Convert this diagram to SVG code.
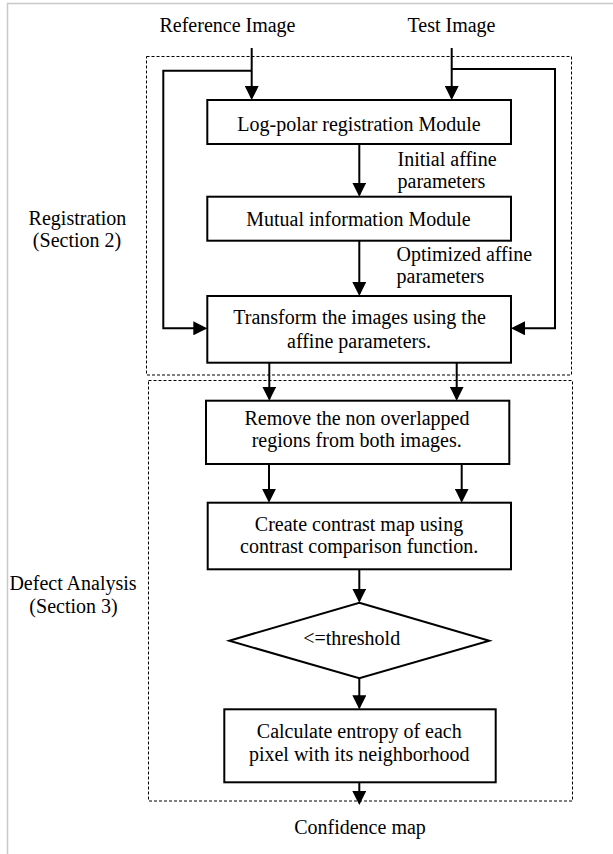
<svg xmlns="http://www.w3.org/2000/svg" width="613" height="854" viewBox="0 0 613 854">
<defs>
<style>
text{font-family:"Liberation Serif","Times New Roman",serif;font-size:20px;fill:#000}
.c{text-anchor:middle}
.box{fill:#fff;stroke:#000;stroke-width:2}
.grp{fill:none;stroke:#000;stroke-width:1;stroke-dasharray:3,2}
.con{fill:none;stroke:#000;stroke-width:2}
.arr{marker-end:url(#ah)}
</style>
<marker id="ah" viewBox="0 0 14 14" refX="12" refY="7" markerWidth="14" markerHeight="14" markerUnits="userSpaceOnUse" orient="auto">
<path d="M0,0 L14,7 L0,14 z" fill="#000"/>
</marker>
</defs>
<rect width="613" height="854" fill="#fff"/>
<path d="M7.5,854 V3.5 H613" fill="none" stroke="#c8c8c8" stroke-width="1.5"/>

<g id="groups">
<rect class="grp" x="146.5" y="56.5" width="425" height="318.5"/>
<rect class="grp" x="148.5" y="380.5" width="424" height="420.5"/>
</g>

<g id="labels">
<text class="c" x="77.5" y="224.5">Registration</text>
<text class="c" x="77" y="246.5">(Section 2)</text>
<text class="c" x="73" y="590">Defect Analysis</text>
<text class="c" x="73.5" y="613">(Section 3)</text>
<text class="c" x="227.5" y="31.5">Reference Image</text>
<text class="c" x="451.5" y="31.5">Test Image</text>
<text x="397.5" y="165.5">Initial affine</text>
<text x="397.5" y="187.5">parameters</text>
<text x="396.5" y="260.5">Optimized affine</text>
<text x="396.5" y="283">parameters</text>
<text class="c" x="360" y="833.5">Confidence map</text>
</g>

<g id="connectors">
<path class="con arr" d="M251.7,48 V98"/>
<path class="con arr" d="M451.7,48 V98"/>
<path class="con arr" d="M251.7,70.7 H163.3 V328.3 H205.3"/>
<path class="con arr" d="M451.7,69 H555 V328.3 H513"/>
<path class="con arr" d="M359.3,144 V194.7"/>
<path class="con arr" d="M359.3,240.7 V294"/>
<path class="con arr" d="M269.3,362.7 V398.7"/>
<path class="con arr" d="M456.7,362.7 V398.7"/>
<path class="con arr" d="M269,464 V500.7"/>
<path class="con arr" d="M461.7,464 V500.7"/>
<path class="con arr" d="M359.3,569.3 V600.7"/>
<path class="con arr" d="M359.3,678.3 V707.3"/>
<path class="con arr" d="M359.3,782.3 V803"/>
</g>

<g id="logpolar">
<rect class="box" x="207.3" y="100" width="303.7" height="44"/>
<text class="c" x="359" y="130.5">Log-polar registration Module</text>
</g>
<g id="mutual">
<rect class="box" x="207.3" y="196.7" width="303.7" height="44"/>
<text class="c" x="358.5" y="226">Mutual information Module</text>
</g>
<g id="transform">
<rect class="box" x="207.3" y="296" width="303.7" height="66.7"/>
<text class="c" x="359.5" y="323.5">Transform the images using the</text>
<text class="c" x="359" y="348">affine parameters.</text>
</g>
<g id="remove">
<rect class="box" x="206" y="400.7" width="303.3" height="63.3"/>
<text class="c" x="357" y="424.5">Remove the non overlapped</text>
<text class="c" x="356.7" y="447">regions from both images.</text>
</g>
<g id="contrast">
<rect class="box" x="207.7" y="502.7" width="303.3" height="66.6"/>
<text class="c" x="359" y="530.7">Create contrast map using</text>
<text class="c" x="359.2" y="553.3">contrast comparison function.</text>
</g>
<g id="threshold">
<polygon class="box" points="359.3,602.7 489.3,640.7 359.3,678.3 229.3,640.7"/>
<text class="c" x="351.7" y="645">&lt;=threshold</text>
</g>
<g id="entropy">
<rect class="box" x="224.3" y="709.3" width="271.4" height="73"/>
<text class="c" x="359.3" y="738.3">Calculate entropy of each</text>
<text class="c" x="359.2" y="760.5">pixel with its neighborhood</text>
</g>
</svg>
